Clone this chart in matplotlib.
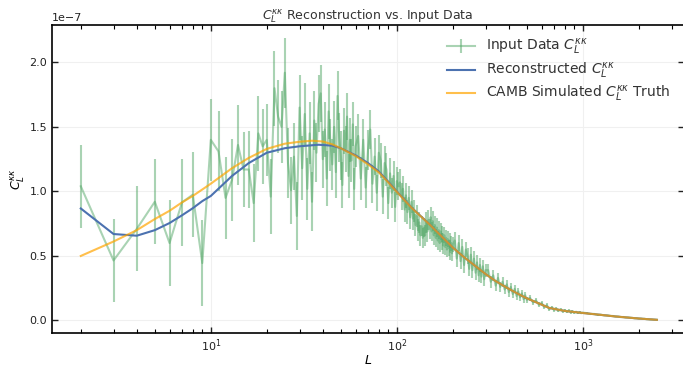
import numpy as np
import matplotlib
matplotlib.use("Agg")
import matplotlib.pyplot as plt

# multipoles of the input data (every L at low L, thinned at high L)
ell_data = np.concatenate([np.arange(2, 61), np.arange(62, 201, 2),
                           np.arange(205, 301, 5), np.arange(310, 501, 10),
                           np.arange(520, 1001, 20), np.arange(1050, 2501, 50)])

# input data C_L^kk in units of 1e-7
data_low = [1.04, 0.465, 0.71, 0.92, 0.60, 0.915, 0.975, 0.445, 1.40,
            1.31, 0.95, 1.09, 1.36, 1.17, 1.17, 0.91, 1.45, 1.35, 1.40,
            0.96, 1.80, 1.58, 1.50, 1.92, 1.22, 1.01, 1.27, 0.81, 1.65,
            1.18, 1.60, 1.02, 1.45, 0.92, 1.55, 1.30, 1.68, 1.76, 1.25,
            1.48, 1.10, 1.62, 1.36, 1.21, 1.50, 1.15, 1.74, 1.42, 1.28,
            1.05, 1.47, 1.33, 1.58, 1.12, 1.40, 1.24, 1.52, 1.02, 1.35]
data_mid = [1.43, 1.10, 1.40, 1.03, 1.32, 1.48, 1.06, 1.27, 0.99, 1.30,
            1.24, 0.96, 1.22, 1.17, 0.91, 1.14, 0.99, 1.12, 0.88, 1.08,
            1.04, 1.07, 0.96, 1.02, 0.86, 0.97, 0.84, 0.95, 0.80, 0.92,
            0.79, 0.85, 0.74, 0.81, 0.70, 0.76, 0.66, 0.73, 0.64, 0.72,
            0.66, 0.76, 0.69, 0.78, 0.71, 0.80, 0.69, 0.77, 0.66, 0.74,
            0.64, 0.72, 0.62, 0.70, 0.60, 0.69, 0.61, 0.67, 0.58, 0.66,
            0.57, 0.64, 0.55, 0.63, 0.56, 0.62, 0.53, 0.60, 0.52, 0.59]
data_high = [0.62, 0.48, 0.60, 0.46, 0.57, 0.43, 0.55, 0.50, 0.40, 0.51,
             0.39, 0.48, 0.37, 0.45, 0.35, 0.43, 0.34, 0.42, 0.32, 0.39,
             0.39, 0.30, 0.35, 0.27, 0.33, 0.26, 0.30, 0.24, 0.28, 0.22,
             0.26, 0.205, 0.245, 0.19, 0.225, 0.18, 0.21, 0.165, 0.195, 0.16,
             0.175, 0.140, 0.155, 0.122, 0.135, 0.105, 0.118, 0.088, 0.101,
             0.082, 0.092, 0.075, 0.085, 0.071, 0.080, 0.067, 0.075, 0.063,
             0.071, 0.061, 0.068, 0.058, 0.065, 0.056, 0.061,
             0.057, 0.050, 0.051, 0.044, 0.045, 0.040, 0.040, 0.035, 0.035,
             0.030, 0.030, 0.026, 0.027, 0.023, 0.023, 0.020, 0.020, 0.017,
             0.018, 0.014, 0.015, 0.012, 0.013, 0.010, 0.010, 0.008, 0.008,
             0.006, 0.006, 0.005]
data_vals = np.array(data_low + data_mid + data_high)

err_low = [0.32, 0.32, 0.33, 0.33, 0.33, 0.335, 0.33, 0.33, 0.32,
           0.31, 0.32, 0.32, 0.31, 0.29, 0.30, 0.30, 0.29, 0.29, 0.28,
           0.29, 0.29, 0.28, 0.28, 0.27, 0.27, 0.26, 0.26, 0.26, 0.25,
           0.25, 0.24, 0.24, 0.24, 0.23, 0.23, 0.23, 0.22, 0.22, 0.22,
           0.21, 0.21, 0.21, 0.20, 0.20, 0.20, 0.20, 0.19, 0.19, 0.19,
           0.18, 0.18, 0.18, 0.18, 0.17, 0.17, 0.17, 0.17, 0.16, 0.16]
err_mid = [0.17, 0.165, 0.16, 0.157, 0.153, 0.15, 0.147, 0.144, 0.141, 0.139,
           0.136, 0.133, 0.13, 0.127, 0.124, 0.121, 0.118, 0.115, 0.113, 0.11,
           0.108, 0.106, 0.104, 0.102, 0.10, 0.098, 0.096, 0.094, 0.092, 0.09,
           0.089, 0.087, 0.086, 0.084, 0.083, 0.081, 0.08, 0.079, 0.077, 0.076,
           0.082, 0.081, 0.08, 0.079, 0.078, 0.077, 0.076, 0.075, 0.074, 0.073,
           0.072, 0.071, 0.07, 0.069, 0.068, 0.067, 0.066, 0.065, 0.064, 0.063,
           0.062, 0.062, 0.061, 0.06, 0.06, 0.059, 0.058, 0.058, 0.057, 0.056]
err_high = [0.065, 0.065, 0.064, 0.063, 0.062, 0.061, 0.06, 0.06, 0.059, 0.058,
            0.057, 0.056, 0.056, 0.055, 0.054, 0.053, 0.052, 0.052, 0.051, 0.05,
            0.046, 0.045, 0.044, 0.042, 0.041, 0.040, 0.039, 0.038, 0.036, 0.035,
            0.034, 0.033, 0.032, 0.031, 0.030, 0.029, 0.028, 0.027, 0.026, 0.025,
            0.022, 0.021, 0.020, 0.019, 0.018, 0.017, 0.016, 0.015, 0.015,
            0.014, 0.014, 0.013, 0.013, 0.012, 0.012, 0.011, 0.011, 0.010,
            0.010, 0.010, 0.009, 0.009, 0.009, 0.008, 0.008,
            0.006, 0.006, 0.006, 0.006, 0.006, 0.005, 0.005, 0.005, 0.005,
            0.005, 0.005, 0.004, 0.004, 0.004, 0.004, 0.004, 0.004, 0.004,
            0.004, 0.003, 0.003, 0.003, 0.003, 0.003, 0.003, 0.003, 0.003,
            0.003, 0.003, 0.003]
err_vals = np.array(err_low + err_mid + err_high)

# reconstructed spectrum
recon_ell = [2, 3, 4, 5, 6, 7, 8, 9, 10, 13, 16, 20, 25, 30, 38, 45, 50, 60,
             70, 80, 90, 100, 120, 150, 200, 230, 260, 300, 340, 400, 450,
             500, 600, 660, 800, 1000, 1200, 1500, 2000, 2500]
recon_vals = [0.868, 0.67, 0.657, 0.70, 0.755, 0.815, 0.87, 0.925, 0.965,
              1.12, 1.22, 1.30, 1.335, 1.35, 1.362, 1.355, 1.335, 1.28,
              1.22, 1.155, 1.075, 1.00, 0.875, 0.745, 0.565, 0.49, 0.43,
              0.36, 0.305, 0.245, 0.205, 0.172, 0.123, 0.097, 0.074, 0.058,
              0.046, 0.031, 0.015, 0.005]

# CAMB truth
truth_ell = [2, 3, 4, 5, 6, 7, 8, 10, 13, 16, 20, 25, 30, 35, 40, 45, 50, 60,
             70, 80, 90, 100, 120, 150, 200, 230, 260, 300, 340, 400, 450,
             500, 600, 660, 800, 1000, 1200, 1500, 2000, 2500]
truth_vals = [0.50, 0.612, 0.70, 0.786, 0.85, 0.915, 0.965, 1.06, 1.18,
              1.26, 1.33, 1.37, 1.385, 1.393, 1.387, 1.365, 1.335, 1.275,
              1.21, 1.148, 1.07, 0.997, 0.873, 0.744, 0.565, 0.49, 0.43,
              0.36, 0.305, 0.245, 0.205, 0.172, 0.123, 0.097, 0.074, 0.058,
              0.046, 0.031, 0.015, 0.005]

scale = 1e-7

plt.rcParams['xtick.direction'] = 'in'
plt.rcParams['ytick.direction'] = 'in'
plt.rcParams['xtick.top'] = True
plt.rcParams['ytick.right'] = True

fig = plt.figure(figsize=(6.83, 3.66), dpi=100)
ax = fig.add_axes([0.0761, 0.0902, 0.9254, 0.8415])

h_data = ax.errorbar(ell_data, data_vals * scale, yerr=err_vals * scale,
                     color='#55A868', alpha=0.5, lw=1.5, elinewidth=1.5,
                     label=r'Input Data $C_L^{\kappa\kappa}$', zorder=1)
h_rec, = ax.plot(recon_ell, np.array(recon_vals) * scale, color='#4C72B0',
                 lw=1.5, label=r'Reconstructed $C_L^{\kappa\kappa}$', zorder=2)
h_tru, = ax.plot(truth_ell, np.array(truth_vals) * scale, color='orange',
                 lw=1.5, alpha=0.7,
                 label=r'CAMB Simulated $C_L^{\kappa\kappa}$ Truth', zorder=3)

ax.set_xscale('log')
ax.set_xlim(1.40, 3500)
ax.set_ylim(-0.097e-7, 2.29e-7)
ax.grid(True, color='#f0f0f0', lw=0.8)
ax.set_axisbelow(True)

ax.tick_params(which='major', length=4, width=1, labelsize=8, colors='#222222')
ax.tick_params(which='minor', length=3, width=0.8)
for s in ax.spines.values():
    s.set_linewidth(1.2)
ax.yaxis.get_offset_text().set_fontsize(8)

ax.set_title(r'$C_L^{\kappa\kappa}$ Reconstruction vs. Input Data',
             fontsize=9, color='#333333', pad=4)
ax.set_xlabel(r'$L$', fontsize=9, labelpad=0)
ax.set_ylabel(r'$C_L^{\kappa\kappa}$', fontsize=9, labelpad=2)

leg = ax.legend([h_data, h_rec, h_tru],
                [h_data.get_label(), h_rec.get_label(), h_tru.get_label()],
                loc='upper right', frameon=False, fontsize=10,
                labelspacing=0.25, bbox_to_anchor=(0.998, 1.0))
for t in leg.get_texts():
    t.set_color('#333333')

fig.savefig('out.png', dpi=100)
